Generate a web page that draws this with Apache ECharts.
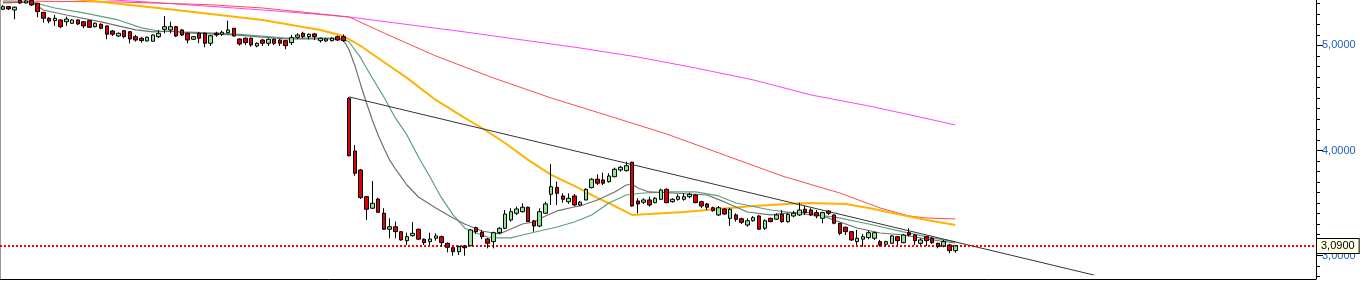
<!DOCTYPE html>
<html><head><meta charset="utf-8">
<script src="https://cdn.jsdelivr.net/npm/echarts@6/dist/echarts.min.js"></script>
<style>html,body{margin:0;padding:0;background:#fff}#c{width:1363px;height:282px}</style>
</head><body><div id="c"></div>
<script>
// slot count of the x axis (data fills the first 166 slots)
const slotCount = 228;
const categories = Array.from({length: slotCount}, (_, i) => String(i));

// candles: [open, close, low, high]
const candles = [
[5.345,5.370,5.338,5.386],[5.370,5.348,5.338,5.376],[5.338,5.364,5.250,5.371],[5.428,5.405,5.395,5.433],
[5.405,5.424,5.400,5.430],[5.428,5.386,5.376,5.433],[5.402,5.322,5.269,5.405],[5.316,5.259,5.217,5.319],
[5.259,5.233,5.211,5.269],[5.236,5.259,5.186,5.290],[5.243,5.179,5.164,5.248],[5.226,5.252,5.186,5.274],
[5.211,5.243,5.205,5.252],[5.243,5.205,5.195,5.248],[5.226,5.186,5.164,5.233],[5.236,5.173,5.167,5.243],
[5.179,5.211,5.171,5.219],[5.202,5.164,5.154,5.210],[5.186,5.107,5.059,5.190],[5.138,5.107,5.090,5.148],
[5.090,5.116,5.081,5.124],[5.141,5.084,5.069,5.148],[5.131,5.062,5.021,5.138],[5.084,5.052,5.036,5.100],
[5.069,5.046,5.027,5.081],[5.043,5.078,5.038,5.086],[5.040,5.100,5.038,5.105],[5.084,5.116,5.069,5.148],
[5.154,5.179,5.116,5.281],[5.148,5.179,5.116,5.226],[5.179,5.090,5.081,5.186],[5.148,5.100,5.090,5.157],
[5.116,5.052,5.021,5.124],[5.059,5.084,5.052,5.090],[5.116,5.069,5.021,5.129],[5.116,5.021,4.983,5.124],
[5.021,5.093,4.995,5.100],[5.116,5.100,5.084,5.131],[5.107,5.126,5.090,5.141],[5.122,5.148,5.116,5.236],
[5.164,5.090,5.086,5.167],[5.062,5.014,4.998,5.067],[5.069,5.027,5.005,5.076],[5.069,5.005,4.988,5.076],
[4.995,5.021,4.983,5.029],[5.052,5.021,4.995,5.062],[5.021,5.059,4.995,5.067],[5.059,5.021,5.005,5.067],
[5.052,5.021,4.995,5.062],[5.046,4.998,4.964,5.052],[5.027,5.074,5.005,5.100],[5.078,5.100,5.059,5.116],
[5.116,5.084,5.069,5.131],[5.084,5.107,5.059,5.114],[5.110,5.084,5.052,5.119],[5.046,5.069,5.027,5.076],
[5.043,5.062,5.033,5.071],[5.046,5.069,5.038,5.076],[5.084,5.052,5.043,5.095],[5.084,5.046,5.033,5.105],
[4.497,3.950,3.943,4.509],[3.995,3.783,3.760,4.052],[3.814,3.551,3.538,3.824],[3.560,3.440,3.338,3.567],
[3.450,3.497,3.443,3.709],[3.538,3.411,3.405,3.548],[3.402,3.250,3.243,3.450],[3.250,3.274,3.164,3.354],
[3.274,3.227,3.164,3.322],[3.227,3.148,3.141,3.233],[3.141,3.179,3.100,3.217],[3.189,3.211,3.179,3.319],
[3.250,3.155,3.148,3.255],[3.155,3.122,3.100,3.162],[3.132,3.157,3.100,3.217],[3.164,3.186,3.141,3.211],
[3.179,3.122,3.084,3.190],[3.116,3.078,3.030,3.124],[3.074,3.036,2.998,3.081],[3.036,3.084,3.005,3.095],
[3.091,3.074,2.998,3.100],[3.093,3.243,3.091,3.252],[3.265,3.227,3.205,3.274],[3.221,3.179,3.155,3.243],
[3.157,3.116,3.068,3.167],[3.132,3.217,3.068,3.227],[3.217,3.259,3.205,3.269],[3.259,3.395,3.250,3.433],
[3.338,3.417,3.322,3.450],[3.402,3.443,3.386,3.465],[3.417,3.459,3.408,3.497],[3.459,3.322,3.319,3.465],
[3.329,3.281,3.227,3.338],[3.281,3.417,3.269,3.450],[3.402,3.491,3.395,3.512],[3.583,3.655,3.481,3.871],
[3.649,3.592,3.481,3.703],[3.567,3.535,3.503,3.592],[3.512,3.545,3.491,3.592],[3.567,3.481,3.471,3.586],
[3.481,3.507,3.471,3.519],[3.529,3.630,3.524,3.640],[3.646,3.726,3.640,3.735],[3.726,3.688,3.671,3.773],
[3.719,3.688,3.671,3.789],[3.703,3.757,3.693,3.783],[3.750,3.821,3.745,3.836],[3.814,3.840,3.798,3.852],
[3.808,3.855,3.798,3.893],[3.888,3.471,3.465,3.893],[3.519,3.491,3.402,3.545],[3.507,3.529,3.491,3.545],
[3.529,3.481,3.465,3.560],[3.503,3.545,3.497,3.555],[3.535,3.624,3.529,3.636],[3.630,3.503,3.497,3.640],
[3.512,3.535,3.503,3.545],[3.535,3.560,3.522,3.583],[3.535,3.560,3.522,3.592],[3.560,3.583,3.545,3.598],
[3.576,3.503,3.497,3.586],[3.512,3.471,3.450,3.522],[3.491,3.459,3.433,3.500],[3.455,3.427,3.417,3.465],
[3.386,3.455,3.376,3.471],[3.443,3.395,3.386,3.450],[3.354,3.440,3.281,3.450],[3.386,3.345,3.322,3.402],
[3.350,3.316,3.300,3.360],[3.290,3.331,3.274,3.354],[3.331,3.360,3.322,3.376],[3.376,3.250,3.243,3.386],
[3.259,3.331,3.243,3.345],[3.354,3.322,3.316,3.360],[3.345,3.386,3.338,3.402],[3.392,3.322,3.312,3.433],
[3.322,3.392,3.312,3.402],[3.376,3.402,3.364,3.424],[3.386,3.433,3.376,3.503],[3.440,3.408,3.386,3.471],
[3.433,3.386,3.376,3.450],[3.408,3.376,3.354,3.433],[3.354,3.408,3.307,3.417],[3.424,3.402,3.386,3.433],
[3.386,3.307,3.297,3.392],[3.307,3.211,3.195,3.310],[3.269,3.227,3.195,3.274],[3.227,3.148,3.138,3.233],
[3.132,3.164,3.100,3.243],[3.155,3.179,3.084,3.205],[3.170,3.217,3.155,3.236],[3.164,3.217,3.148,3.227],
[3.132,3.100,3.084,3.148],[3.107,3.132,3.091,3.141],[3.116,3.186,3.110,3.195],[3.179,3.141,3.100,3.186],
[3.122,3.195,3.116,3.205],[3.217,3.195,3.179,3.259],[3.195,3.141,3.100,3.205],[3.116,3.148,3.100,3.164],
[3.179,3.141,3.091,3.186],[3.164,3.122,3.110,3.174],[3.116,3.084,3.068,3.122],[3.091,3.132,3.078,3.148],
[3.100,3.046,3.021,3.110],[3.046,3.091,3.027,3.100]
];

// moving averages: [slot, value]
const maFast = [[0,5.405],[5,5.414],[7,5.338],[11,5.290],[17,5.224],[23,5.148],[26,5.129],[29,5.138],[32,5.119],
[40,5.100],[49,5.062],[57,5.062],[59,5.052],[60,4.957],[61,4.805],[62,4.624],[63,4.452],[64,4.290],[65,4.148],
[66,4.024],[67,3.910],[68,3.824],[69,3.748],[70,3.671],[72,3.557],[75,3.452],[78,3.357],[80,3.300],[83,3.233],
[85,3.214],[86,3.205],[88,3.252],[90,3.300],[92,3.319],[94,3.376],[96,3.424],[99,3.462],[100,3.471],[103,3.528],
[106,3.605],[108,3.671],[109,3.681],[110,3.643],[112,3.605],[116,3.595],[122,3.576],[125,3.510],[129,3.414],
[133,3.386],[136,3.405],[139,3.414],[142,3.376],[145,3.319],[148,3.262],[152,3.214],[156,3.195],[160,3.157],[165,3.119]];
const maMid = [[0,5.414],[5,5.414],[9,5.357],[14,5.310],[20,5.243],[24,5.167],[27,5.138],[31,5.129],[40,5.110],
[49,5.071],[57,5.071],[59,5.062],[60,5.033],[62,4.881],[64,4.690],[66,4.509],[68,4.310],[70,4.148],[72,3.938],
[74,3.748],[76,3.548],[78,3.386],[80,3.262],[82,3.214],[84,3.176],[86,3.167],[88,3.167],[90,3.195],[93,3.233],
[96,3.271],[99,3.319],[102,3.386],[105,3.500],[108,3.576],[111,3.595],[116,3.605],[120,3.605],[124,3.567],
[127,3.500],[133,3.433],[140,3.386],[144,3.367],[150,3.300],[156,3.224],[161,3.167],[165,3.129]];
const maOrange = [[10,5.452],[14,5.433],[30,5.338],[45,5.243],[55,5.148],[59,5.090],[62,4.995],[66,4.843],
[70,4.691],[75,4.481],[80,4.310],[83,4.214],[87,4.071],[91,3.910],[95,3.767],[99,3.662],[103,3.548],[106,3.471],
[109,3.386],[112,3.395],[118,3.414],[124,3.443],[130,3.471],[136,3.490],[140,3.500],[146,3.490],[150,3.452],
[155,3.395],[160,3.338],[165,3.290]];
const maRed = [[0,5.424],[20,5.414],[35,5.390],[45,5.357],[55,5.300],[60,5.271],[66,5.119],[75,4.900],[85,4.690],
[95,4.500],[105,4.329],[115,4.157],[125,3.957],[135,3.757],[145,3.595],[152,3.452],[157,3.376],[160,3.357],[165,3.348]];
const maMagenta = [[10,5.462],[25,5.414],[35,5.376],[45,5.338],[55,5.295],[60,5.271],[80,5.129],[100,4.976],
[110,4.890],[120,4.786],[130,4.672],[140,4.529],[150,4.424],[158,4.329],[165,4.243]];
const trendLine = [[60,4.510],[189,2.814]];

const lastPrice = 3.09;
const minorTicks = [2.8,2.9,3.0,3.1,3.2,3.3,3.4,3.5,3.6,3.7,3.8,3.9,4.0,4.1,4.2,4.3,4.4,4.5,4.6,4.7,4.8,4.9,5.0,5.1,5.2,5.3,5.4];
const majorTicks = [3,4,5];
const yMin = 2.776, yMax = 5.433;

const fmt = v => v.toFixed(4).replace('.', ',');
const chart = echarts.init(document.getElementById('c'), null, {renderer: 'canvas'});
const baseY = {type: 'value', min: yMin, max: yMax, position: 'right', splitLine: {show: false}};
const lineS = (data, color, width, z) => ({
  type: 'line', data, showSymbol: false, smooth: false, silent: true, z,
  lineStyle: {color, width}, itemStyle: {color}
});
chart.setOption({
  animation: false,
  grid: {left: 0, right: 47, top: 0, bottom: 3},
  xAxis: {type: 'category', data: categories, boundaryGap: true,
    axisLine: {show: true, lineStyle: {color: '#000'}}, axisTick: {show: false}, axisLabel: {show: false}, splitLine: {show: false}},
  yAxis: [
    Object.assign({}, baseY, {axisLine: {show: true, lineStyle: {color: '#000'}},
      axisTick: {show: true, customValues: minorTicks, length: 4, lineStyle: {color: '#000'}}, axisLabel: {show: false}}),
    Object.assign({}, baseY, {axisLine: {show: false},
      axisTick: {show: true, customValues: majorTicks, length: 7, lineStyle: {color: '#000'}},
      axisLabel: {show: true, customValues: majorTicks, formatter: fmt, color: '#1f5fbf', fontSize: 11,
        fontFamily: 'Liberation Sans, Arial, sans-serif', margin: 6}}),
    Object.assign({}, baseY, {axisLine: {show: false}, axisTick: {show: false}, z: 10,
      axisLabel: {show: true, customValues: [lastPrice], formatter: fmt, color: '#000', fontSize: 11,
        fontFamily: 'Liberation Sans, Arial, sans-serif', margin: 1, backgroundColor: '#ffffe6',
        borderColor: '#000', borderWidth: 1, padding: [2, 4, 1, 4]}}),
    Object.assign({}, baseY, {position: 'left', axisLine: {show: true, lineStyle: {color: '#999'}},
      axisTick: {show: false}, axisLabel: {show: false}})
  ],
  series: [
    lineS(maMagenta, '#ff40ff', 1, 2),
    lineS(maRed, '#ff4a4a', 1, 2),
    lineS(maOrange, '#ffb300', 2, 2),
    lineS(maMid, '#5d9f7c', 1.2, 3),
    lineS(maFast, '#707070', 1.2, 3),
    {type: 'line', data: trendLine, showSymbol: false, silent: true, z: 4,
      lineStyle: {color: '#333', width: 1}},
    {type: 'candlestick', data: candles, barWidth: 4, z: 5,
      itemStyle: {color: '#8fe88f', color0: '#dd0000', borderColor: '#000', borderColor0: '#000', borderColorDoji: '#000', borderWidth: 1},
      markLine: {silent: true, symbol: 'none', label: {show: false},
        lineStyle: {color: '#ff0000', type: [2, 2], width: 2},
        data: [{yAxis: lastPrice}]}}
  ]
});
</script>
</body></html>
